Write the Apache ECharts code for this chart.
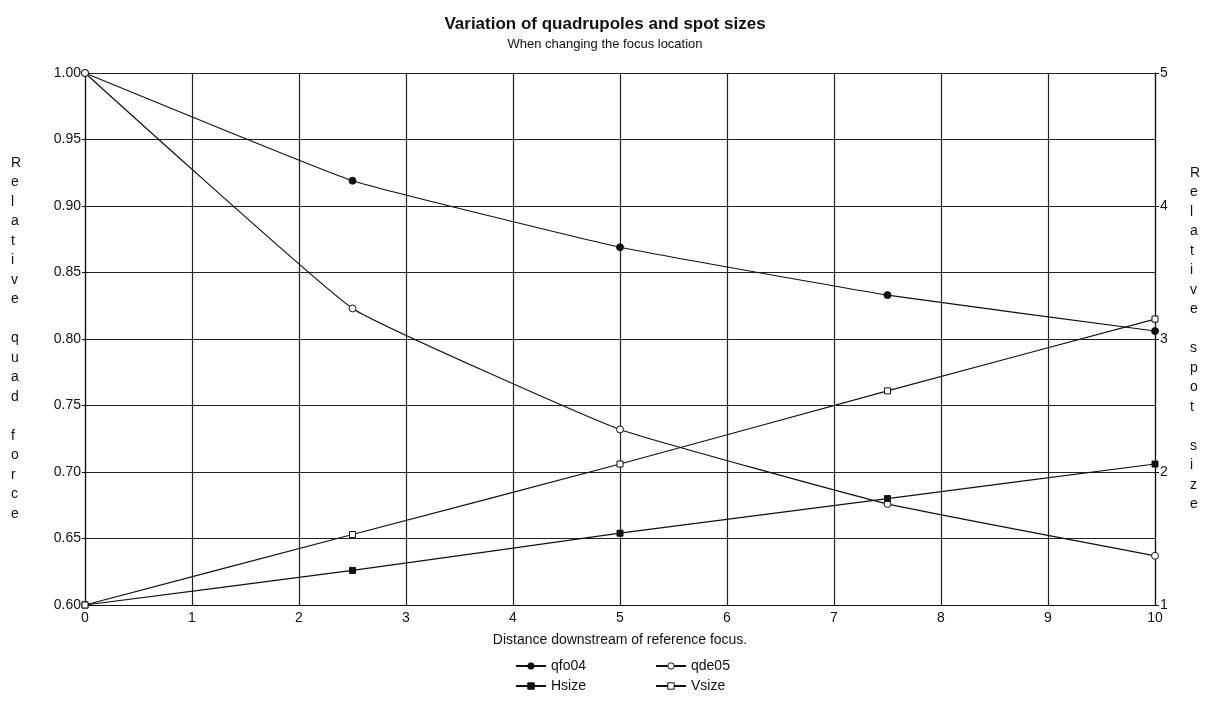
<!DOCTYPE html>
<html>
<head>
<meta charset="utf-8">
<script src="https://cdn.jsdelivr.net/npm/echarts@6/dist/echarts.min.js"></script>
<style>
  html, body { margin: 0; padding: 0; background: #fff; }
  #chart { width: 1210px; height: 705px; }
</style>
</head>
<body>
<div id="chart"></div>
<script>
// Distance downstream of the reference focus
const distances = [0, 2.5, 5, 7.5, 10];
// Relative quadrupole strengths (left axis)
const qfo04 = [1.000, 0.919, 0.869, 0.833, 0.806];
const qde05 = [1.000, 0.823, 0.732, 0.676, 0.637];
// Relative spot sizes (right axis)
const hsize = [1.00, 1.26, 1.54, 1.80, 2.06];
const vsize = [1.00, 1.53, 2.06, 2.61, 3.15];

const FONT = 'Liberation Sans, Arial, sans-serif';
const INK = '#111';

const pairs = ys => distances.map((x, i) => [x, ys[i]]);

const chart = echarts.init(document.getElementById('chart'));

function lineSeries(name, data, yAxisIndex, symbol, filled) {
  return {
    name, type: 'line', data: pairs(data), yAxisIndex,
    symbol, symbolSize: symbol === 'rect' ? 6 : 7,
    showSymbol: true, smooth: 0.1,
    lineStyle: { color: INK, width: 1.2 },
    itemStyle: { color: filled ? INK : '#fff', borderColor: INK, borderWidth: 1 },
    emphasis: { disabled: true },
    z: 5
  };
}

function legendAt(name, left, top) {
  return {
    data: [name], left, top, itemWidth: 30, itemHeight: 8,
    textStyle: { fontFamily: FONT, fontSize: 14, color: INK },
    itemStyle: { borderWidth: 1 }
  };
}

chart.setOption({
  animation: false,
  title: {
    text: 'Variation of quadrupoles and spot sizes',
    subtext: 'When changing the focus location',
    left: 'center', top: 11, itemGap: 5,
    textStyle: { fontFamily: FONT, fontSize: 17, fontWeight: 'bold', color: INK },
    subtextStyle: { fontFamily: FONT, fontSize: 13, color: INK }
  },
  grid: { left: 85, right: 55, top: 73, bottom: 100 },
  legend: [
    legendAt('qfo04', 510, 654),
    legendAt('qde05', 650, 654),
    legendAt('Hsize', 510, 674),
    legendAt('Vsize', 650, 674)
  ],
  xAxis: {
    type: 'value', min: 0, max: 10, interval: 1,
    name: 'Distance downstream of reference focus.',
    nameLocation: 'middle', nameGap: 28,
    nameTextStyle: { fontFamily: FONT, fontSize: 14, color: INK },
    axisLine: { show: true, lineStyle: { color: INK, width: 1.2 } },
    axisTick: { show: false },
    axisLabel: { fontFamily: FONT, fontSize: 14, color: INK, margin: 6 },
    splitLine: { show: true, lineStyle: { color: '#222', width: 1.2 } }
  },
  yAxis: [
    {
      type: 'value', min: 0.6, max: 1.0, interval: 0.05,
      position: 'left',
      axisLine: { show: true, lineStyle: { color: INK, width: 1.2 } },
      axisTick: { show: true, length: 3, lineStyle: { color: INK } },
      axisLabel: { fontFamily: FONT, fontSize: 14, color: INK, margin: 4,
                   formatter: v => v.toFixed(2) },
      splitLine: { show: true, lineStyle: { color: '#222', width: 1.2 } }
    },
    {
      type: 'value', min: 1, max: 5, interval: 1,
      position: 'right',
      axisLine: { show: true, lineStyle: { color: INK, width: 1.2 } },
      axisTick: { show: true, length: 4, lineStyle: { color: INK } },
      axisLabel: { fontFamily: FONT, fontSize: 14, color: INK, margin: 5 },
      splitLine: { show: false }
    }
  ],
  graphic: [
    {
      type: 'text', left: 11, top: 153,
      style: {
        text: 'R\ne\nl\na\nt\ni\nv\ne\n\nq\nu\na\nd\n\nf\no\nr\nc\ne',
        font: '14px ' + FONT, fill: INK, align: 'center', lineHeight: 19.5
      }
    },
    {
      type: 'text', left: 1190, top: 163,
      style: {
        text: 'R\ne\nl\na\nt\ni\nv\ne\n\ns\np\no\nt\n\ns\ni\nz\ne',
        font: '14px ' + FONT, fill: INK, align: 'center', lineHeight: 19.5
      }
    }
  ],
  series: [
    lineSeries('qfo04', qfo04, 0, 'circle', true),
    lineSeries('qde05', qde05, 0, 'circle', false),
    lineSeries('Hsize', hsize, 1, 'rect', true),
    lineSeries('Vsize', vsize, 1, 'rect', false)
  ]
});
</script>
</body>
</html>
